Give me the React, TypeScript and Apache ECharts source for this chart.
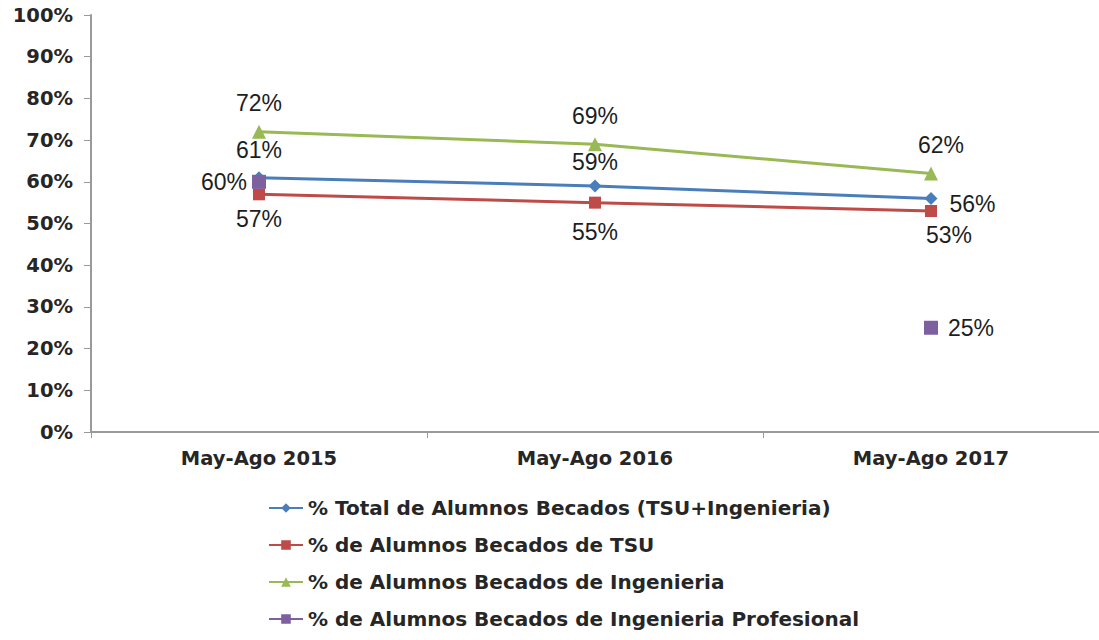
import React, { useEffect, useRef } from "react";
import * as echarts from "echarts";

const categories = ["May-Ago 2015", "May-Ago 2016", "May-Ago 2017"];
const yTicks = [0, 10, 20, 30, 40, 50, 60, 70, 80, 90, 100];
const seriesNames = [
  "% Total de Alumnos Becados (TSU+Ingenieria)",
  "% de Alumnos Becados de TSU",
  "% de Alumnos Becados de Ingenieria",
  "% de Alumnos Becados de Ingenieria Profesional",
];
const totalValues = [61, 59, 56];
const tsuValues = [57, 55, 53];
const ingValues = [72, 69, 62];
const ingProfValues: (number | null)[] = [60, null, 25];

const colors = ["#4A7EBB", "#BE4B48", "#98B954", "#7D60A0"];

export default function App() {
  const ref = useRef<HTMLDivElement>(null);
  useEffect(() => {
    if (!ref.current) return;
    const chart = echarts.init(ref.current, null, { renderer: "svg" });
    const labelBase = {
      show: true,
      fontFamily: "Liberation Sans, Arial, sans-serif",
      fontSize: 23,
      color: "#1e1e1e",
      formatter: (p: any) => p.value + "%",
    };
    chart.setOption({
      animation: false,
      backgroundColor: "#ffffff",
      grid: { left: 91, right: -5, top: 15, bottom: 208, containLabel: false },
      legend: {
        orient: "vertical",
        left: 263,
        top: 493,
        itemWidth: 34,
        itemHeight: 12,
        itemGap: 17,
        data: seriesNames,
        textStyle: {
          fontFamily: "DejaVu Sans, sans-serif",
          fontWeight: "bold",
          fontSize: 20,
          color: "#262626",
        },
      },
      xAxis: {
        type: "category",
        data: categories,
        boundaryGap: true,
        axisLine: { lineStyle: { color: "#9a9a9a", width: 2 } },
        axisTick: { show: true, length: 6, lineStyle: { color: "#9a9a9a" } },
        axisLabel: {
          margin: 16,
          fontFamily: "DejaVu Sans, sans-serif",
          fontWeight: "bold",
          fontSize: 19.5,
          color: "#262626",
        },
        splitLine: { show: false },
      },
      yAxis: {
        type: "value",
        min: 0,
        max: 100,
        interval: 10,
        axisLine: { show: true, lineStyle: { color: "#9a9a9a", width: 2 } },
        axisTick: { show: true, length: 7, lineStyle: { color: "#9a9a9a" } },
        splitLine: { show: false },
        axisLabel: {
          margin: 18,
          fontFamily: "DejaVu Sans, sans-serif",
          fontWeight: "bold",
          fontSize: 19.5,
          color: "#262626",
          formatter: (v: number) => (yTicks.includes(v) ? v + "%" : ""),
        },
      },
      series: [
        {
          name: seriesNames[0],
          type: "line",
          data: totalValues.map((v, i) => ({
            value: v,
            label:
              i === 2
                ? { position: "right", distance: 12, offset: [0, 6] }
                : { position: "top", distance: i === 0 ? 10 : 6 },
          })),
          symbol: "diamond",
          symbolSize: 13,
          lineStyle: { color: colors[0], width: 3 },
          itemStyle: { color: colors[0] },
          label: labelBase,
          z: 3,
        },
        {
          name: seriesNames[1],
          type: "line",
          data: tsuValues.map((v, i) => ({
            value: v,
            label: {
              position: "bottom",
              distance: i === 1 ? 12 : 7,
              offset: i === 2 ? [18, 0] : [0, 0],
            },
          })),
          symbol: "rect",
          symbolSize: 12,
          lineStyle: { color: colors[1], width: 3 },
          itemStyle: { color: colors[1] },
          label: labelBase,
          z: 2,
        },
        {
          name: seriesNames[2],
          type: "line",
          data: ingValues.map((v, i) => ({
            value: v,
            label: {
              position: "top",
              distance: 10,
              offset: i === 2 ? [10, 0] : [0, 0],
            },
          })),
          symbol: "triangle",
          symbolSize: 14,
          lineStyle: { color: colors[2], width: 3 },
          itemStyle: { color: colors[2] },
          label: labelBase,
          z: 2,
        },
        {
          name: seriesNames[3],
          type: "line",
          data: ingProfValues.map((v, i) => ({
            value: v,
            label: { position: i === 0 ? "left" : "right", distance: i === 0 ? 5 : 10 },
          })),
          connectNulls: false,
          symbol: "rect",
          symbolSize: 14,
          showSymbol: true,
          lineStyle: { color: colors[3], width: 3 },
          itemStyle: { color: colors[3] },
          label: labelBase,
          z: 4,
        },
      ],
    });
    return () => chart.dispose();
  }, []);
  return (
    <div
      ref={ref}
      style={{ position: "fixed", left: 0, top: 0, width: 1099, height: 640 }}
    />
  );
}
